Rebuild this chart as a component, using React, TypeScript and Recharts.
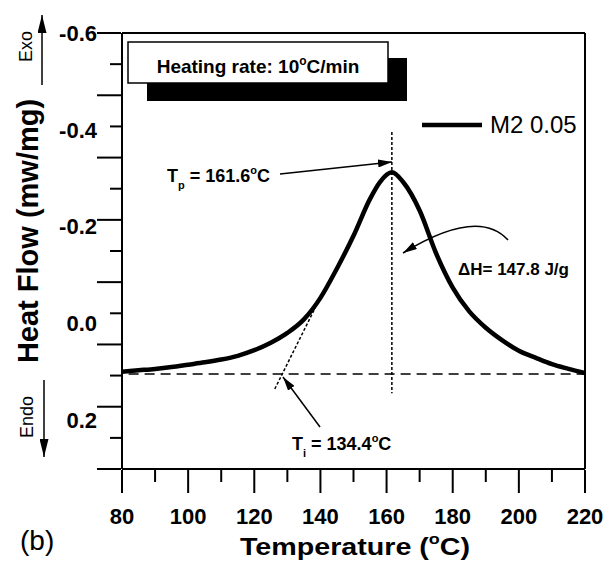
import React from 'react'
import { Line, LineChart, ReferenceLine, XAxis, YAxis } from 'recharts'

// DSC curve, heat flow (mw/mg, exo is negative)
const temps = [80, 85, 90, 95, 100, 105, 110, 115, 120, 125, 130, 135, 140, 145, 150, 155, 158, 161.6, 165, 170, 175, 180, 185, 190, 195, 200, 205, 210, 215, 220]
const heatFlow = [0.125, 0.122, 0.119, 0.115, 0.11, 0.105, 0.099, 0.091, 0.079, 0.063, 0.042, 0.013, -0.033, -0.096, -0.166, -0.245, -0.281, -0.302, -0.281, -0.22, -0.128, -0.055, -0.004, 0.031, 0.058, 0.08, 0.095, 0.109, 0.119, 0.128]

const xMajorTicks = [80, 100, 120, 140, 160, 180, 200, 220]
const xMinorTicks = [90, 110, 130, 150, 170, 190, 210]
// y axis is cut in 14 equal steps from -0.6 to 0.3333
const yTicks = [-0.6, -0.5333, -0.4667, -0.4, -0.3333, -0.2667, -0.2, -0.1333, -0.0667, 0, 0.0667, 0.1333, 0.2, 0.2667, 0.3333]
const yLabelIdx = [0, 3, 6, 9, 12]
const yTickLabels = ['-0.6', '-0.4', '-0.2', '0.0', '0.2']

// construction lines
const baseline = [{ x: 82, y: 0.13 }, { x: 220, y: 0.13 }]
const peakLine = [{ x: 161.6, y: -0.388 }, { x: 161.6, y: 0.171 }]
const tangent = [{ x: 126.2, y: 0.162 }, { x: 138.5, y: -0.013 }]

const data = temps.map((t, i) => ({ t, v: heatFlow[i] }))
const yLong = yTicks.filter((_, i) => i % 2 === 0)
const yShort = yTicks.filter((_, i) => i % 2 === 1)

const FONT = 'Liberation Sans, Arial, sans-serif'

const XTick = (props: any) => {
    const { x, y, payload } = props
    return (
        <text x={x} y={y + 31} textAnchor="middle" fontFamily={FONT} fontWeight="bold" fontSize={22} fill="#000">
            {payload.value}
        </text>
    )
}

const YTick = (props: any) => {
    const { x, y, payload, shift } = props
    const idx = yTicks.findIndex((v) => Math.abs(v - payload.value) < 1e-4)
    const li = yLabelIdx.indexOf(idx)
    if (li < 0) return <g />
    return (
        <text x={x - shift} y={y + 8 + li * 3.2} textAnchor="end" fontFamily={FONT} fontWeight="bold" fontSize={22} fill="#000">
            {yTickLabels[li]}
        </text>
    )
}

function Overlay() {
    const txt = { fontFamily: FONT, fill: '#000' }
    return (
        <svg width={606} height={563} style={{ position: 'absolute', left: 0, top: 0, pointerEvents: 'none' }}>
            <defs>
                <marker id="ah" viewBox="0 0 10 10" refX="10" refY="5" markerWidth="14" markerHeight="8" markerUnits="userSpaceOnUse" orient="auto" preserveAspectRatio="none">
                    <path d="M0,0 L10,5 L0,10 z" fill="#000" />
                </marker>
                <marker id="ah2" viewBox="0 0 10 10" refX="10" refY="5" markerWidth="18" markerHeight="9" markerUnits="userSpaceOnUse" orient="auto" preserveAspectRatio="none">
                    <path d="M0,0 L10,5 L0,10 z" fill="#000" />
                </marker>
            </defs>

            {/* heating rate box */}
            <rect x={147} y={58} width={260} height={43} fill="#000" />
            <rect x={128} y={42} width={260} height={41} fill="#fff" stroke="#000" strokeWidth={1.5} />
            <text x={258} y={73} textAnchor="middle" fontSize={19} fontWeight="bold" {...txt}>
                Heating rate: 10<tspan fontSize={12} dy={-8}>o</tspan><tspan dy={8}>C/min</tspan>
            </text>

            {/* legend */}
            <line x1={422} x2={482} y1={125} y2={125} stroke="#000" strokeWidth={4.5} />
            <text x={490} y={133} fontSize={24} {...txt}>M2 0.05</text>

            {/* Tp */}
            <text x={167} y={182} fontSize={18} fontWeight="bold" {...txt}>
                T<tspan fontSize={11} dy={7}>p</tspan><tspan dy={-7}> = 161.6</tspan><tspan fontSize={11} dy={-8}>o</tspan><tspan dy={8}>C</tspan>
            </text>
            <line x1={280} y1={174} x2={392} y2={162} stroke="#000" strokeWidth={1.5} markerEnd="url(#ah)" />

            {/* delta H */}
            <text x={458} y={275} fontSize={17} fontWeight="bold" {...txt}>ΔH= 147.8 J/g</text>
            <path d="M508,240 Q478,207 403,253" fill="none" stroke="#000" strokeWidth={1.5} markerEnd="url(#ah)" />

            {/* Ti */}
            <text x={292} y={450} fontSize={18} fontWeight="bold" {...txt}>
                T<tspan fontSize={11} dy={7}>i</tspan><tspan dy={-7}> = 134.4</tspan><tspan fontSize={11} dy={-8}>o</tspan><tspan dy={8}>C</tspan>
            </text>
            <line x1={320} y1={427} x2={283} y2={377} stroke="#000" strokeWidth={1.5} markerEnd="url(#ah)" />

            {/* Exo / Endo */}
            <text transform="translate(32,62) rotate(-90)" fontSize={18} {...txt}>Exo</text>
            <line x1={42} y1={85} x2={42} y2={15} stroke="#000" strokeWidth={1.5} markerEnd="url(#ah2)" />
            <text transform="translate(33,438) rotate(-90)" fontSize={18} {...txt}>Endo</text>
            <line x1={44} y1={380} x2={44} y2={457} stroke="#000" strokeWidth={1.5} markerEnd="url(#ah2)" />

            {/* axis titles */}
            <text transform="translate(38,231) rotate(-90)" textAnchor="middle" fontSize={29} fontWeight="bold" {...txt}>
                Heat Flow (mw/mg)
            </text>
            <text x={240} y={555} fontSize={24} fontWeight="bold" textLength={230} lengthAdjust="spacingAndGlyphs" {...txt}>
                Temperature (<tspan fontSize={15} dy={-11}>o</tspan><tspan dy={11}>C)</tspan>
            </text>

            <text x={20} y={550} fontSize={28} {...txt}>(b)</text>
        </svg>
    )
}

export default function App() {
    const axisStroke = { stroke: '#000', strokeWidth: 2 }
    return (
        <div style={{ position: 'absolute', left: 0, top: 0, width: 606, height: 563, background: '#fff' }}>
            <LineChart width={606} height={563} data={data} margin={{ top: 33, right: 21, left: 0, bottom: 0 }}>
                {/* axis 0 carries the minor ticks on the plot edge; axis 1 (major + labels) stacks 1px outside */}
                <XAxis
                    xAxisId={0}
                    dataKey="t"
                    type="number"
                    domain={[80, 220]}
                    ticks={xMinorTicks}
                    interval={0}
                    height={1}
                    tickSize={13}
                    tickLine={axisStroke}
                    tick={() => <g />}
                    allowDataOverflow
                    axisLine={axisStroke}
                />
                <XAxis
                    xAxisId={1}
                    dataKey="t"
                    type="number"
                    domain={[80, 220]}
                    ticks={xMajorTicks}
                    interval={0}
                    height={93}
                    tickSize={23}
                    tickMargin={0}
                    tickLine={axisStroke}
                    allowDataOverflow
                    axisLine={false}
                    tick={(p: any) => <XTick {...p} />}
                />
                <YAxis
                    yAxisId={0}
                    type="number"
                    domain={[-0.6, 0.3333]}
                    reversed
                    ticks={yShort}
                    interval={0}
                    width={1}
                    tickSize={12}
                    tickMargin={0}
                    tickLine={axisStroke}
                    allowDataOverflow
                    axisLine={axisStroke}
                    tick={(p: any) => <YTick {...p} shift={13} />}
                />
                <YAxis
                    yAxisId={1}
                    type="number"
                    domain={[-0.6, 0.3333]}
                    reversed
                    ticks={yLong}
                    interval={0}
                    width={121}
                    tickSize={24}
                    tickMargin={0}
                    tickLine={axisStroke}
                    allowDataOverflow
                    axisLine={false}
                    tick={(p: any) => <YTick {...p} shift={0} />}
                />
                <ReferenceLine y={-0.6} stroke="#000" strokeWidth={2} />
                <ReferenceLine x={220} stroke="#000" strokeWidth={2} />
                <ReferenceLine segment={baseline} stroke="#000" strokeWidth={1.5} strokeDasharray="10 6" />
                <ReferenceLine segment={peakLine} stroke="#000" strokeWidth={1.5} strokeDasharray="3 2" />
                <ReferenceLine segment={tangent} stroke="#000" strokeWidth={1.5} strokeDasharray="3 2" />
                <Line
                    type="monotone"
                    dataKey="v"
                    stroke="#000"
                    strokeWidth={4.5}
                    dot={false}
                    isAnimationActive={false}
                />
            </LineChart>
            <Overlay />
        </div>
    )
}
